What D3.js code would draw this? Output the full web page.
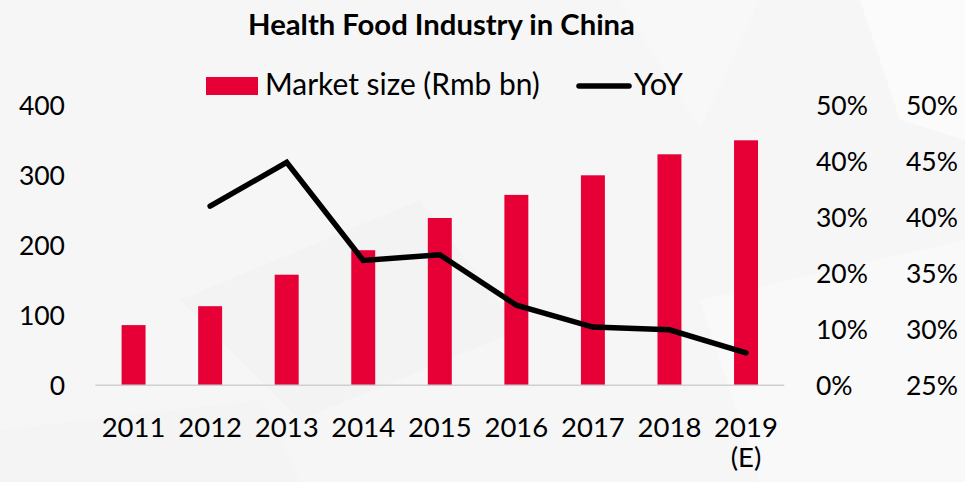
<!DOCTYPE html>
<html>
<head>
<meta charset="utf-8">
<script src="https://cdn.jsdelivr.net/npm/d3@7"></script>
<style>
  html, body { margin: 0; padding: 0; background: #f6f6f6; }
  svg { display: block; }
  text { font-family: Lato, "Open Sans", sans-serif; fill: #000; }
</style>
</head>
<body>
<svg id="chart" width="965" height="482"></svg>
<script>
const years = ["2011", "2012", "2013", "2014", "2015", "2016", "2017", "2018", "2019"];
const yearSub = ["", "", "", "", "", "", "", "", "(E)"];
const marketSize = [86, 113, 158, 193, 239, 272, 300, 330, 350];
const yoy = [null, 32.0, 39.8, 22.3, 23.3, 14.3, 10.4, 9.9, 5.8];
const leftTicks = [0, 100, 200, 300, 400];
const rightTicksInner = [0, 10, 20, 30, 40, 50];
const rightTicksOuter = [25, 30, 35, 40, 45, 50];
const titleText = "Health Food Industry in China";
const legendBar = "Market size (Rmb bn)";
const legendLine = "YoY";

const svg = d3.select("#chart");
const W = 965, H = 482;
const plot = { left: 95.3, right: 784.3, top: 105.3, bottom: 385.3 };

// background with faint polygons
const bg = svg.append("g");
bg.append("rect").attr("width", W).attr("height", H).attr("fill", "#f6f6f6");
const polys = [
  [[860,0],[965,0],[965,140],[900,120]],
  [[620,0],[760,0],[700,130]],
  [[700,300],[965,240],[965,482],[760,482]],
  [[180,300],[420,200],[520,330],[300,420]],
  [[0,430],[260,400],[300,482],[0,482]]
];
const polyFill = ["#fbfbfb", "#f8f8f8", "#f9f9f9", "#f3f3f3", "#f4f4f4"];
bg.selectAll("polygon").data(polys).join("polygon")
  .attr("points", d => d.map(p => p.join(",")).join(" "))
  .attr("fill", (d, i) => polyFill[i]);

const x = d3.scaleBand().domain(years).range([plot.left, plot.right]).paddingInner(0.687).paddingOuter(0.3435);
const yL = d3.scaleLinear().domain([0, 400]).range([plot.bottom, plot.top]);
const yR = d3.scaleLinear().domain([0, 50]).range([plot.bottom, plot.top]);
const yR2 = d3.scaleLinear().domain([25, 50]).range([plot.bottom, plot.top]);

function fit(sel, target) {
  const w = sel.node().getComputedTextLength();
  const fs = parseFloat(sel.attr("font-size"));
  sel.attr("font-size", fs * target / w);
}

// bars
svg.append("g").selectAll("rect").data(marketSize).join("rect")
  .attr("x", (d, i) => x(years[i]))
  .attr("width", x.bandwidth())
  .attr("y", d => yL(d))
  .attr("height", d => yL(0) - yL(d))
  .attr("fill", "#e60036");

// axis baseline
svg.append("line")
  .attr("x1", plot.left).attr("x2", plot.right)
  .attr("y1", yL(0)).attr("y2", yL(0))
  .attr("stroke", "#d0d0d0").attr("stroke-width", 1.5);

// left axis
const axL = svg.append("g").attr("transform", `translate(65,0)`)
  .call(d3.axisLeft(yL).tickValues(leftTicks).tickSize(0).tickPadding(0).tickFormat(d3.format("d")));
axL.select(".domain").remove();
axL.selectAll("text").attr("font-size", 26.5).attr("font-family", "Lato").attr("fill", "#000").attr("dy", "0.35em");

// right axes
const axR1 = svg.append("g").attr("transform", `translate(816,0)`)
  .call(d3.axisRight(yR).tickValues(rightTicksInner).tickSize(0).tickPadding(0).tickFormat(d => d + "%"));
axR1.select(".domain").remove();
axR1.selectAll("text").attr("font-size", 26.5).attr("font-family", "Lato").attr("fill", "#000").attr("dy", "0.35em");

const axR2 = svg.append("g").attr("transform", `translate(906,0)`)
  .call(d3.axisRight(yR2).tickValues(rightTicksOuter).tickSize(0).tickPadding(0).tickFormat(d => d + "%"));
axR2.select(".domain").remove();
axR2.selectAll("text").attr("font-size", 26.5).attr("font-family", "Lato").attr("fill", "#000").attr("dy", "0.35em");

// x axis labels
const axX = svg.append("g").attr("transform", `translate(0,437)`)
  .call(d3.axisBottom(x).tickSize(0).tickPadding(0));
axX.select(".domain").remove();
axX.selectAll("text").attr("font-size", 27.5).attr("font-family", "Lato").attr("fill", "#000").attr("dy", 0).attr("y", 0);
svg.append("g").selectAll("text").data(yearSub).join("text")
  .attr("x", (d, i) => x(years[i]) + x.bandwidth() / 2)
  .attr("y", 467)
  .attr("text-anchor", "middle")
  .attr("font-size", 27.5)
  .text(d => d);

// line
const lineGen = d3.line()
  .defined(d => d !== null)
  .x((d, i) => x(years[i]) + x.bandwidth() / 2)
  .y(d => yR(d));
svg.append("path").datum(yoy)
  .attr("d", lineGen)
  .attr("fill", "none").attr("stroke", "#000").attr("stroke-width", 5.5)
  .attr("stroke-linecap", "round").attr("stroke-linejoin", "miter");

// title
const t = svg.append("text").attr("x", 441.5).attr("y", 35).attr("text-anchor", "middle")
  .attr("font-weight", "bold").attr("font-size", 24).text(titleText);
fit(t, 387);

// legend
svg.append("rect").attr("x", 206).attr("y", 77).attr("width", 52).attr("height", 18).attr("fill", "#e60036");
const l1 = svg.append("text").attr("x", 265).attr("y", 95).attr("font-size", 26).text(legendBar);
fit(l1, 275);
svg.append("line").attr("x1", 579).attr("x2", 629).attr("y1", 86).attr("y2", 86)
  .attr("stroke", "#000").attr("stroke-width", 5.5).attr("stroke-linecap", "round");
const l2 = svg.append("text").attr("x", 634).attr("y", 95).attr("font-size", 26).text(legendLine);
fit(l2, 49);
</script>
</body>
</html>
